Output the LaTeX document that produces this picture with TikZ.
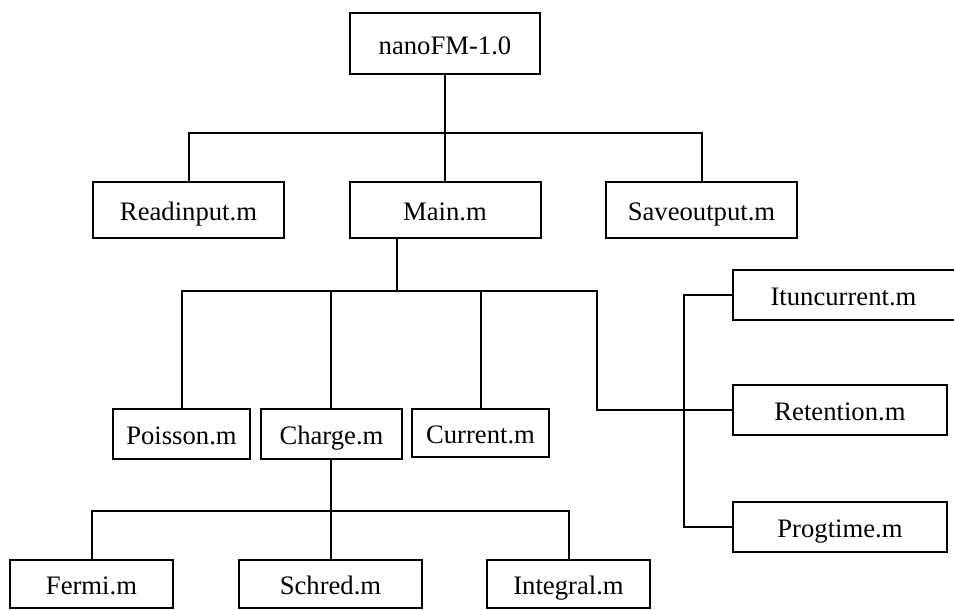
\documentclass[tikz,border=0pt]{standalone}
\usepackage{fontspec}
\setmainfont{Liberation Serif}
\begin{document}
\begin{tikzpicture}[x=0.75pt,y=-0.75pt,
  lbl/.style={inner sep=0pt,text height=16pt,text depth=0pt,font=\fontsize{20}{22}\selectfont},
  box/.style={lbl,draw,line width=1.5pt},
  openbox/.style={lbl},
  sz/.style 2 args={minimum width=#1*0.75pt,minimum height=#2*0.75pt},
  link/.style={line width=1.5pt}]
\useasboundingbox (0,0) rectangle (954,610);
% nodes
\node[box,sz={190}{61}] (top) at (445,43.5) {nanoFM-1.0};
\node[box,sz={191}{56}] (read) at (188.5,210) {Readinput.m};
\node[box,sz={191}{56}] (main) at (445,210) {Main.m};
\node[box,sz={191}{56}] (save) at (701.5,210) {Saveoutput.m};
\node[box,sz={137}{50}] (poisson) at (181.5,434) {Poisson.m};
\node[box,sz={141}{50}] (charge) at (331.5,434) {Charge.m};
\node[box,sz={137}{48}] (current) at (480.5,433) {Current.m};
\node[openbox,sz={221}{50}] (itun) at (843.5,295) {Ituncurrent.m};
\node[box,sz={214}{50}] (ret) at (840,410) {Retention.m};
\node[box,sz={214}{50}] (prog) at (840,527) {Progtime.m};
\node[box,sz={163}{48}] (fermi) at (91.5,584) {Fermi.m};
\node[box,sz={183}{48}] (schred) at (330.5,584) {Schred.m};
\node[box,sz={163}{48}] (integral) at (568.5,584) {Integral.m};
% open box outline (right side cut off)
\draw[line width=1.5pt] (itun.north east) -- (itun.north west) -- (itun.south west) -- (itun.south east);
% junctions
\coordinate (j1) at (445,133);
\coordinate (j2) at (397,291);
\coordinate (j3) at (597,291);
\coordinate (j4) at (597,410);
\coordinate (j5) at (684,410);
\coordinate (j6) at (331,511);
% level 1
\draw[link] (top.south) -- (j1);
\draw[link] (read.north) |- (j1) -| (save.north);
\draw[link] (j1) -- (main.north);
% level 2
\draw[link] (main.south -| j2) -- (j2);
\draw[link] (poisson.north) |- (j2) -- (j3) -- (j4) -- (j5);
\draw[link] (charge.north -| 331,0) -- (331,291);
\draw[link] (current.north -| 481,0) -- (481,291);
% right branch
\draw[link] (itun.west) -| (j5) |- (prog.west);
\draw[link] (j5) -- (ret.west);
% level 3
\draw[link] (charge.south -| j6) -- (j6);
\draw[link] (fermi.north) |- (j6) -| (integral.north);
\draw[link] (j6) -- (schred.north -| j6);
\end{tikzpicture}
\end{document}
